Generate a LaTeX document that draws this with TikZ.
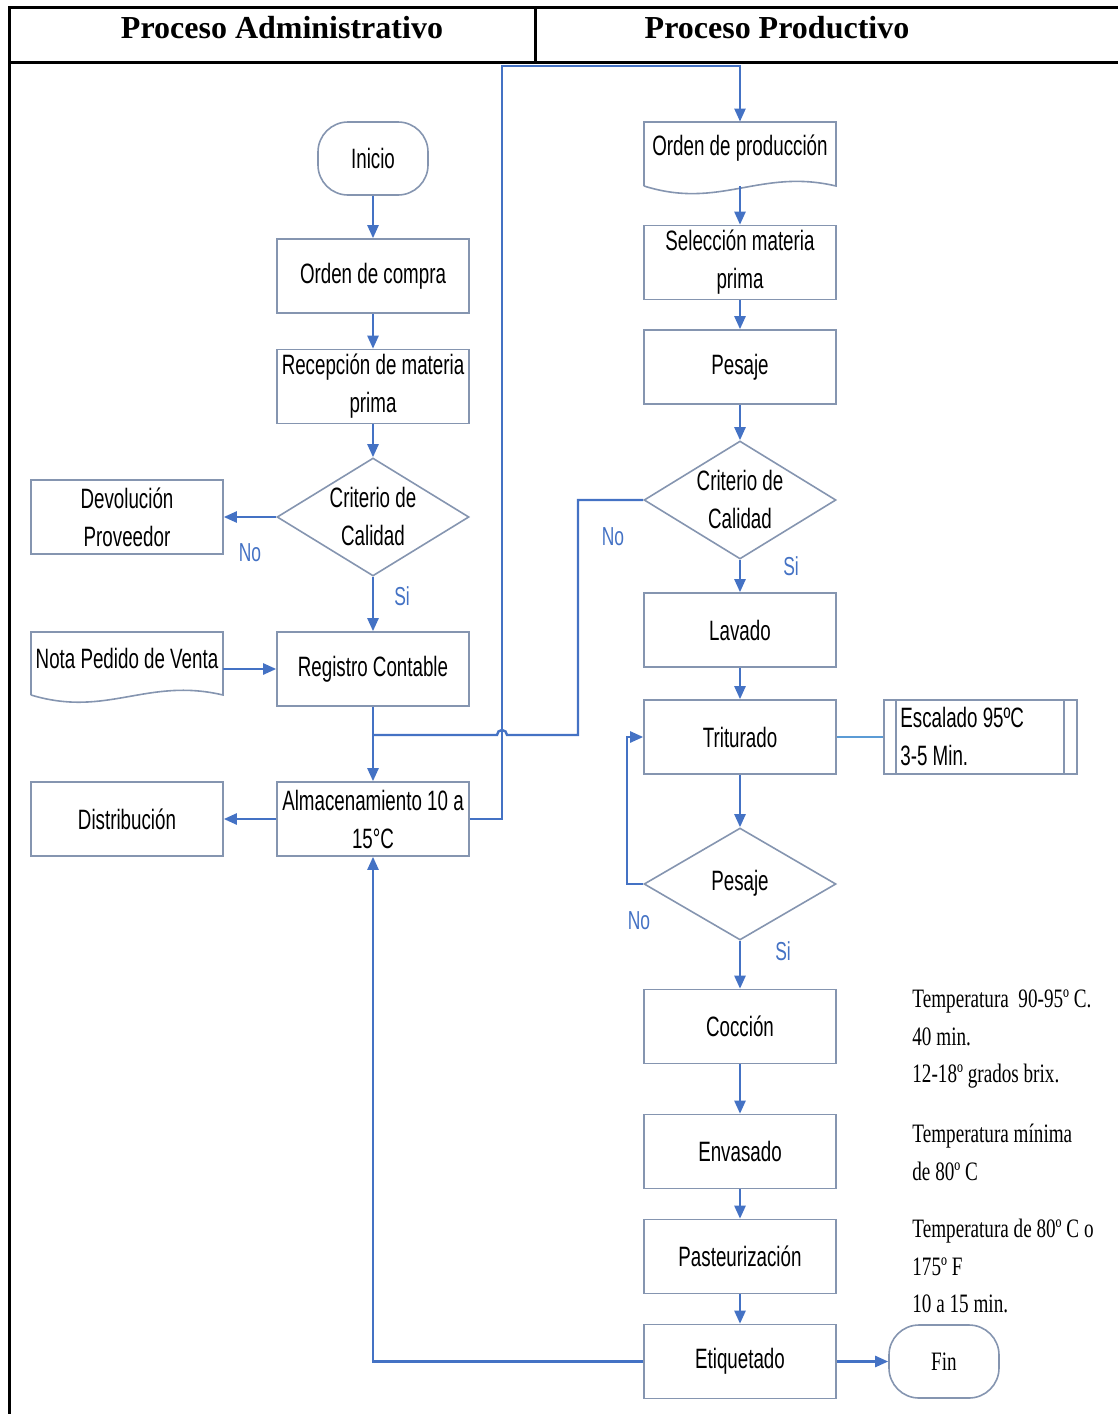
\documentclass[tikz,border=0pt]{standalone}
\usepackage{fontspec}
\setmainfont{Liberation Serif}
\newfontfamily\nsans{Liberation Sans}[FakeStretch=0.67]
\newfontfamily\nserif{Liberation Serif}[FakeStretch=0.72]
\usetikzlibrary{arrows.meta,shapes.geometric}
\definecolor{flow}{HTML}{4472C4}
\definecolor{flowlight}{HTML}{5B9BD5}
\definecolor{boxc}{HTML}{8595B0}
\newcommand\mainsans{\nsans\fontsize{14pt}{19pt}\selectfont}
\newcommand\labsans{\nsans\fontsize{13pt}{15pt}\selectfont}
\newcommand\notefont{\nserif\fontsize{13.3pt}{16pt}\selectfont}
\newcommand\headfont{\fontsize{16pt}{19pt}\selectfont\bfseries}
\begin{document}
\begin{tikzpicture}[x=0.5pt,y=-0.5pt,
  tab/.style={line width=1.5pt,draw=black},
  boxline/.style={draw=boxc,line width=0.8pt},
  proc/.style={boxline,rectangle,minimum width=96pt,minimum height=37pt,inner sep=1pt,align=center,font=\mainsans},
  term/.style={boxline,rectangle,rounded corners=15pt,minimum width=55pt,minimum height=36.5pt,inner sep=0pt},
  docframe/.style={rectangle,minimum width=96pt,minimum height=32pt,inner sep=0pt},
  dec/.style={boxline,diamond,minimum width=96pt,minimum height=59pt,inner sep=0pt},
  txt/.style={align=center,font=\mainsans,inner sep=0pt},
  lab/.style={text=flow,font=\labsans,inner sep=0pt},
  note/.style={anchor=base west,font=\notefont,inner sep=0pt},
  arr/.style={draw=flow,line width=1.2pt,-{Triangle[length=6.5pt,width=5.5pt]}},
  flowline/.style={draw=flow,line width=1.2pt},
]
\useasboundingbox (0,0) rectangle (1118,1414);
% table frame
\draw[tab] (9,1414) -- (9,7) -- (1118,7);
\draw[tab] (9,62) -- (1118,62);
\draw[tab] (535,7) -- (535,62);
\node[font=\headfont] (h1) at (282,28) {Proceso Administrativo};
\node[font=\headfont] (h2) at (777,28) {Proceso Productivo};

% left column
\node[term,font=\mainsans] (ini) at (373,158.5) {Inicio};
\node[proc] (oc) at (373,276) {Orden de compra};
\node[proc] (rec) at (373,386.5) {Recepción de materia\\prima};
\node[dec] (cq1) at (373,517) {};
\node[txt] (cq1t) at (373,516) {Criterio de\\Calidad};
\node[proc] (dev) at (127,517) {Devolución\\Proveedor};
\node[proc] (reg) at (373,669) {Registro Contable};
\node[docframe] (nota) at (127,663.5) {};
\draw[boxline] (31,695) -- (31,632) -- (223,632) -- (223,695) .. controls (147,677) and (107,718) .. (31,695);
\node[txt] (notat) at (127,658) {Nota Pedido de Venta};
\node[proc] (alm) at (373,819) {Almacenamiento 10 a\\15°C};
\node[proc] (dis) at (127,819) {Distribución};

% right column
\node[docframe] (op) at (740,154) {};
\draw[boxline] (644,186) -- (644,122) -- (836,122) -- (836,186) .. controls (760,168) and (720,210) .. (644,186);
\node[txt] (opt) at (740,148) {Orden de producción};
\node[proc] (sel) at (740,262.5) {Selección materia\\prima};
\node[proc] (pe1) at (740,367) {Pesaje};
\node[dec] (cq2) at (740,500) {};
\node[txt] (cq2t) at (740,499) {Criterio de\\Calidad};
\node[proc] (lav) at (740,630) {Lavado};
\node[proc] (tri) at (740,737) {Triturado};
\node[boxline,rectangle,minimum width=96.5pt,minimum height=37pt,inner sep=0pt] (esc) at (980.5,737) {};
\draw[boxline] ([xshift=6.5pt]esc.north west) -- ([xshift=6.5pt]esc.south west);
\draw[boxline] ([xshift=-7pt]esc.north east) -- ([xshift=-7pt]esc.south east);
\node[txt,align=left,anchor=west] (esct) at (900,736) {Escalado 95ºC\\3-5 Min.};
\node[dec,minimum height=56pt] (pe2) at (740,884) {};
\node[txt] (pe2t) at (740,883) {Pesaje};
\node[proc] (coc) at (740,1026.5) {Cocción};
\node[proc] (env) at (740,1151.5) {Envasado};
\node[proc] (pas) at (740,1256.5) {Pasteurización};
\node[proc] (eti) at (740,1361.5) {Etiquetado};
\node[term,font=\notefont] (fin) at (944,1361.5) {Fin};

% notes
\node[note] (n1) at (912,1007) {Temperatura~ 90-95º C.};
\node[note] (n2) at (912,1045) {40 min.};
\node[note] (n3) at (912,1082) {12-18º grados brix.};
\node[note] (n4) at (912,1142) {Temperatura mínima};
\node[note] (n5) at (912,1180) {de 80º C};
\node[note] (n6) at (912,1237) {Temperatura de 80º C o};
\node[note] (n7) at (912,1275) {175º F};
\node[note] (n8) at (912,1312) {10 a 15 min.};

% labels
\node[lab] (no1) at (250,553) {No};
\node[lab] (si1) at (402,596) {Si};
\node[lab] (no2) at (613,537) {No};
\node[lab] (si2) at (791,566) {Si};
\node[lab] (no3) at (639,921) {No};
\node[lab] (si3) at (783,951) {Si};

% connectors
\coordinate (j1) at (373,735);
\coordinate (c1) at (502,66);
\coordinate (k1) at (578,500);
\coordinate (k2) at (578,735);
\coordinate (jr) at (507,735);
\coordinate (lp) at (627,884);
\draw[arr] (ini) -- (oc);
\draw[arr] (oc) -- (rec);
\draw[arr] (rec) -- (cq1.north);
\draw[arr] (cq1.west) -- (dev.east);
\draw[arr] (cq1.south) -- (reg.north);
\draw[arr] (nota.east |- reg.west) -- (reg.west);
\draw[arr] (reg.south) -- (alm.north);
\draw[arr] (alm.west) -- (dis.east);
\draw[arr] (alm.east) -| (c1) -| (op.north);
\draw[arr] (op.south) -- (sel.north);
\draw[arr] (sel) -- (pe1);
\draw[arr] (pe1.south) -- (cq2.north);
\draw[arr] (cq2.south) -- (lav.north);
\draw[arr] (lav) -- (tri);
\draw[draw=flowlight,line width=0.8pt] (tri.east) -- (esc.west);
\draw[arr] (tri.south) -- (pe2.north);
\draw[arr] (pe2.west) -- (lp) |- (tri.west);
\draw[arr] (pe2.south) -- (coc.north);
\draw[arr] (coc) -- (env);
\draw[arr] (env) -- (pas);
\draw[arr] (pas) -- (eti);
\draw[arr] (eti.east) -- (fin.west);
\draw[arr] (eti.west) -| (alm.south);
\draw[flowline] (cq2.west) -- (k1) -- (k2) -- (jr) arc[start angle=0,end angle=-180,radius=5] -- (j1);
\end{tikzpicture}
\end{document}
